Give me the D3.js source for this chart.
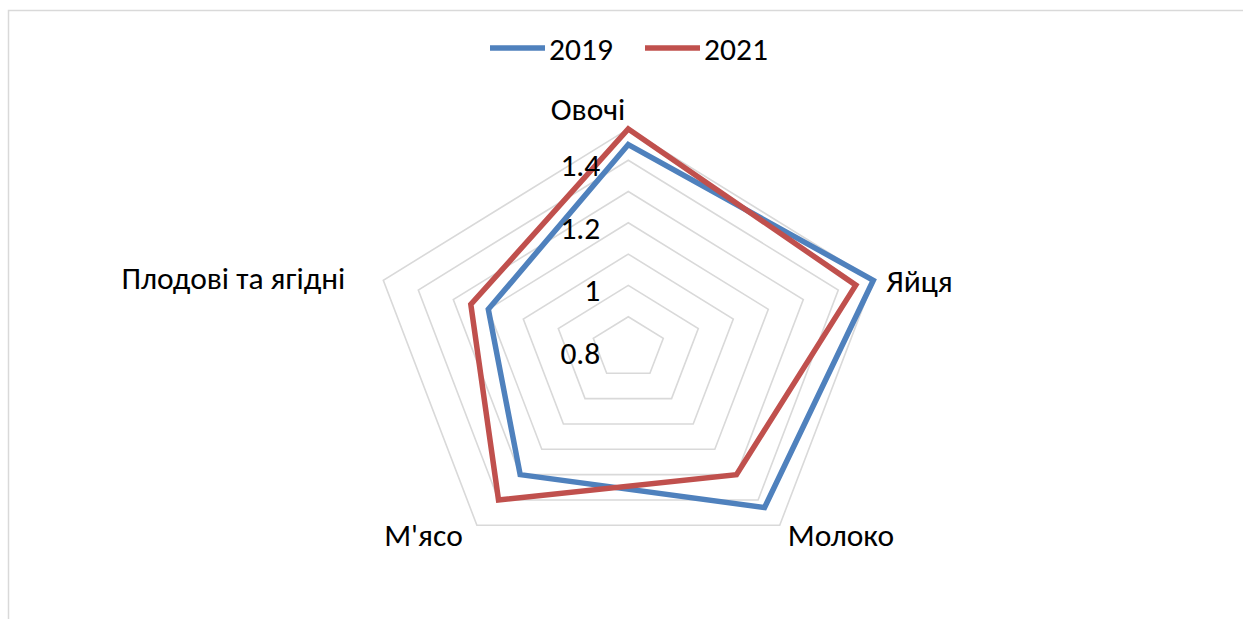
<!DOCTYPE html>
<html>
<head>
<meta charset="utf-8">
<script src="https://cdn.jsdelivr.net/npm/d3@7"></script>
<style>
  html, body { margin: 0; padding: 0; background: #ffffff; }
  svg { display: block; }
  text { font-family: Calibri, Carlito, "Open Sans", sans-serif; fill: #000; }
</style>
</head>
<body>
<svg id="chart" width="1243" height="619"></svg>
<script>
const categories = ["Овочі", "Яйця", "Молоко", "М'ясо", "Плодові та ягідні"];
const seriesNames = ["2019", "2021"];
const values2019 = [1.45, 1.50, 1.43, 1.30, 1.20];
const values2021 = [1.50, 1.45, 1.30, 1.40, 1.25];
const gridValues = [0.9, 1.0, 1.1, 1.2, 1.3, 1.4, 1.5];
const tickLabels = [0.8, 1, 1.2, 1.4];
const colors = ["#4F81BD", "#C0504D"];

const svg = d3.select("#chart");
const W = 1243, H = 619;
const FS = "31.5px";
svg.append("rect").attr("width", W).attr("height", H).attr("fill", "#fff");
// chart area border
svg.append("rect").attr("x", 8.5).attr("y", 10.5).attr("width", 1300).attr("height", 700)
  .attr("fill", "none").attr("stroke", "#D9D9D9").attr("stroke-width", 1.5);

const cx = 628.3, cy = 348, Rx = 257.6, Ry = 219.1;
const r = d3.scaleLinear().domain([0.8, 1.5]).range([0, 1]);
const angle = d3.scalePoint().domain(d3.range(categories.length)).range([0, 2 * Math.PI * (categories.length - 1) / categories.length]);
const pt = (i, v) => {
  const a = angle(i), k = r(v);
  return [cx + Rx * k * Math.sin(a), cy - Ry * k * Math.cos(a)];
};

// grid rings
const ring = v => categories.map((c, i) => pt(i, v));
svg.append("g").selectAll("path").data(gridValues).join("path")
  .attr("d", v => d3.line()(ring(v)) + "Z")
  .attr("fill", "none").attr("stroke", "#D9D9D9").attr("stroke-width", 1.6);

// series
const series = [values2019, values2021];
svg.append("g").selectAll("path").data(series).join("path")
  .attr("d", vals => d3.line()(vals.map((v, i) => pt(i, v))) + "Z")
  .attr("fill", "none")
  .attr("stroke", (d, i) => colors[i])
  .attr("stroke-width", 5.5)
  .attr("stroke-linejoin", "miter");

// value axis labels
svg.append("g").selectAll("text").data(tickLabels).join("text")
  .attr("x", cx - 28)
  .attr("y", v => pt(0, v)[1] + 5)
  .attr("text-anchor", "end")
  .attr("dominant-baseline", "central")
  .style("font-size", FS)
  .text(v => d3.format("")(v));

// category labels
const labelOffsets = [
  { dx: -3, dy: -9, anchor: "end" },
  { dx: 13, dy: 12, anchor: "start" },
  { dx: 8, dy: 21, anchor: "start" },
  { dx: -14, dy: 21, anchor: "end" },
  { dx: -38, dy: 9, anchor: "end" }
];
svg.append("g").selectAll("text").data(categories).join("text")
  .attr("x", (c, i) => pt(i, 1.5)[0] + labelOffsets[i].dx)
  .attr("y", (c, i) => pt(i, 1.5)[1] + labelOffsets[i].dy)
  .attr("text-anchor", (c, i) => labelOffsets[i].anchor)
  .style("font-size", FS)
  .text(c => c);

// legend
const legendX = [490, 645];
const lg = svg.append("g").selectAll("g").data(seriesNames).join("g")
  .attr("transform", (d, i) => `translate(${legendX[i]},48)`);
lg.append("line").attr("x1", 0).attr("x2", 55).attr("y1", 0).attr("y2", 0)
  .attr("stroke", (d, i) => colors[i]).attr("stroke-width", 5.5);
lg.append("text").attr("x", 59).attr("y", 1).attr("dominant-baseline", "central")
  .style("font-size", FS).text(d => d);
</script>
</body>
</html>
